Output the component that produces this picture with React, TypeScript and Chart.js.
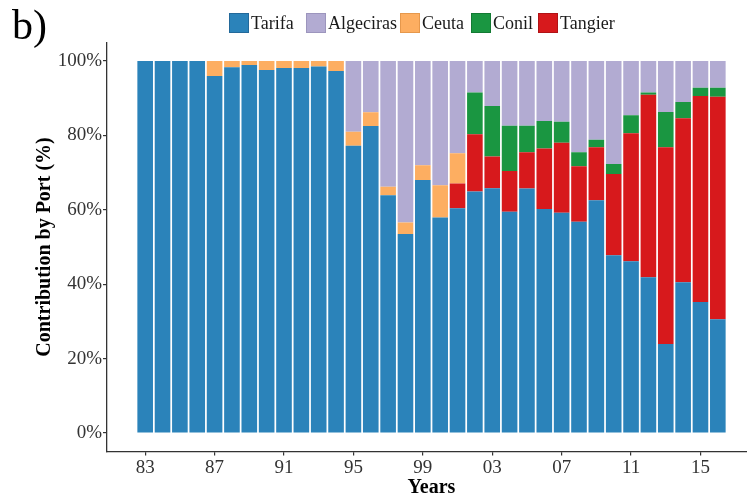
import { useEffect, useRef } from "react";
import { Chart, registerables } from "chart.js";

Chart.register(...registerables);

// Survey years (1983–2016)
const years = [
  1983, 1984, 1985, 1986, 1987, 1988, 1989, 1990, 1991, 1992, 1993, 1994,
  1995, 1996, 1997, 1998, 1999, 2000, 2001, 2002, 2003, 2004, 2005, 2006,
  2007, 2008, 2009, 2010, 2011, 2012, 2013, 2014, 2015, 2016,
];

// Share of each port (%) per year
const tarifa = [
  100, 100, 100, 100, 96.0, 98.3, 98.9, 97.6, 98.1, 98.1, 98.5, 97.3,
  77.2, 82.5, 63.9, 53.5, 68.0, 57.9, 60.4, 64.9, 65.8, 59.5, 65.7, 60.2,
  59.2, 56.8, 62.6, 47.8, 46.2, 41.9, 23.9, 40.5, 35.2, 30.6,
];
const tangier = [
  0, 0, 0, 0, 0, 0, 0, 0, 0, 0, 0, 0,
  0, 0, 0, 0, 0, 0, 6.7, 15.4, 8.5, 10.9, 9.8, 16.3,
  18.8, 14.9, 14.2, 21.8, 34.4, 49.0, 52.9, 44.1, 55.4, 59.8,
];
const conil = [
  0, 0, 0, 0, 0, 0, 0, 0, 0, 0, 0, 0,
  0, 0, 0, 0, 0, 0, 0, 11.2, 13.6, 12.2, 7.1, 7.4,
  5.7, 3.8, 2.0, 2.7, 4.8, 0.6, 9.5, 4.4, 2.2, 2.4,
];
const ceuta = [
  0, 0, 0, 0, 4.0, 1.7, 1.1, 2.4, 1.9, 1.9, 1.5, 2.7,
  3.8, 3.7, 2.3, 3.1, 4.0, 8.7, 8.1, 0, 0, 0, 0, 0,
  0, 0, 0, 0, 0, 0, 0, 0, 0, 0,
];
const algeciras = [
  0, 0, 0, 0, 0, 0, 0, 0, 0, 0, 0, 0,
  19.0, 13.8, 33.8, 43.4, 28.0, 33.4, 24.8, 8.5, 12.1, 17.4, 17.4, 16.1,
  16.3, 24.5, 21.2, 27.7, 14.6, 8.5, 13.7, 11.0, 7.2, 7.2,
];

const xTickYears = [1983, 1987, 1991, 1995, 1999, 2003, 2007, 2011, 2015];
const yTickValues = [0, 20, 40, 60, 80, 100];

// Legend order differs from stacking order (bottom to top)
const legendItems = [
  { name: "Tarifa", color: "#2b83ba", edge: "#23699a", left: 229 },
  { name: "Algeciras", color: "#b2abd2", edge: "#9c95bd", left: 306 },
  { name: "Ceuta", color: "#fdae61", edge: "#e6984c", left: 400 },
  { name: "Conil", color: "#1a9641", edge: "#137a33", left: 471 },
  { name: "Tangier", color: "#d7191c", edge: "#b01316", left: 538 },
];

const SERIF = "'Liberation Serif', 'Times New Roman', serif";

export default function App() {
  const canvasRef = useRef<HTMLCanvasElement>(null);

  useEffect(() => {
    const canvas = canvasRef.current;
    if (!canvas) return;
    const tickFont = { family: SERIF, size: 19 };
    const titleFont = { family: SERIF, size: 20, weight: "bold" as const };
    const axisColor = "#333333";

    const chart = new Chart(canvas, {
      type: "bar",
      data: {
        labels: years,
        datasets: [
          { label: "Tarifa", data: tarifa, backgroundColor: "#2b83ba" },
          { label: "Tangier", data: tangier, backgroundColor: "#d7191c" },
          { label: "Conil", data: conil, backgroundColor: "#1a9641" },
          { label: "Ceuta", data: ceuta, backgroundColor: "#fdae61" },
          { label: "Algeciras", data: algeciras, backgroundColor: "#b2abd2" },
        ],
      },
      options: {
        responsive: false,
        animation: false,
        layout: { padding: { top: 42.4, left: 0, right: 0, bottom: 0 } },
        datasets: {
          bar: { categoryPercentage: 0.9, barPercentage: 1, borderWidth: 0 },
        },
        plugins: {
          legend: { display: false },
          tooltip: { enabled: false },
        },
        scales: {
          x: {
            type: "linear",
            stacked: true,
            offset: false,
            min: 1980.8,
            max: 2018.2,
            afterBuildTicks: (scale: any) => {
              scale.ticks = xTickYears.map((v) => ({ value: v }));
            },
            afterFit: (scale: any) => {
              scale.height = 50.4;
            },
            ticks: {
              autoSkip: false,
              maxRotation: 0,
              padding: 1,
              font: tickFont,
              color: axisColor,
              callback: (v: any) => String(v).slice(2),
            },
            grid: {
              offset: false,
              drawOnChartArea: false,
              drawTicks: true,
              tickLength: 4,
              color: axisColor,
              lineWidth: 1.2,
            },
            border: { display: true, color: axisColor, width: 1.3 },
            title: {
              display: true,
              text: "Years",
              font: titleFont,
              color: "#000000",
              padding: { top: 0, bottom: 2 },
            },
          },
          y: {
            type: "linear",
            stacked: true,
            min: -5,
            max: 105,
            afterBuildTicks: (scale: any) => {
              scale.ticks = yTickValues.map((v) => ({ value: v }));
            },
            afterFit: (scale: any) => {
              scale.width = 107;
            },
            ticks: {
              padding: 1,
              font: tickFont,
              color: axisColor,
              callback: (v: any) => `${v}%`,
            },
            grid: {
              drawOnChartArea: false,
              drawTicks: true,
              tickLength: 4,
              color: axisColor,
              lineWidth: 1.2,
            },
            border: { display: true, color: axisColor, width: 1.3 },
            title: {
              display: true,
              text: "Contribution by Port (%)",
              font: titleFont,
              color: "#000000",
              padding: { top: 33, bottom: 0 },
            },
          },
        },
      },
    } as any);

    return () => chart.destroy();
  }, []);

  return (
    <div
      style={{
        position: "absolute",
        left: 0,
        top: 0,
        width: 747,
        height: 502,
        overflow: "hidden",
        background: "#ffffff",
      }}
    >
      <canvas
        ref={canvasRef}
        width={756}
        height={502}
        style={{ position: "absolute", left: 0, top: 0 }}
      />
      <div
        style={{
          position: "absolute",
          left: 12,
          top: 1,
          fontFamily: SERIF,
          fontSize: 42,
          lineHeight: "48px",
          color: "#000000",
        }}
      >
        b)
      </div>
      {legendItems.map((item) => (
        <div
          key={item.name}
          style={{
            position: "absolute",
            left: item.left,
            top: 13,
            display: "flex",
            alignItems: "center",
            fontFamily: SERIF,
            fontSize: 18,
            lineHeight: "20px",
            color: "#1a1a1a",
            whiteSpace: "nowrap",
          }}
        >
          <span
            style={{
              display: "inline-block",
              width: 18,
              height: 18,
              background: item.color,
              border: `1px solid ${item.edge}`,
              marginRight: 2,
            }}
          />
          <span>{item.name}</span>
        </div>
      ))}
    </div>
  );
}
